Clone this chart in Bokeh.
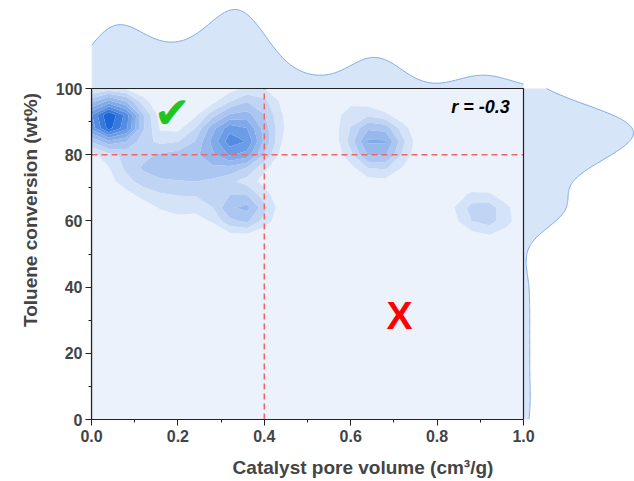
import numpy as np
from bokeh.plotting import figure
from bokeh.models import Range1d, FixedTicker, PrintfTickFormatter
from bokeh.core.properties import value
from bokeh.embed import file_html
from bokeh.resources import INLINE

# ---- data: (pore volume, toluene conversion) per catalyst ----
pore_volume = [0.02, 0.03, 0.04, 0.05, 0.06, 0.04, 0.03, 0.07, 0.01, 0.08, 0.05,         # cluster near 0.04 / 90
               0.12, 0.17, 0.22, 0.27, 0.20, 0.14, 0.25, 0.08, 0.19, 0.29,               # spread 0.1-0.3 / 65-82
               0.35, 0.36, 0.34, 0.35, 0.31, 0.28, 0.33, 0.31, 0.37, 0.38, 0.40, 0.34,   # cluster near 0.35 / 82
               0.35, 0.34, 0.36, 0.35,                                                   # 0.35 / 63
               0.66, 0.65, 0.67, 0.66, 0.60, 0.67, 0.66,                                 # 0.66 / 84
               0.88, 0.93, 0.91,                                                         # 0.91 / 62
               0.50, 0.15, 0.25, 0.47, 0.10]                                             # low conversion
conversion = [90, 92, 89, 91, 90, 93, 87, 88, 92, 92, 90,
              78, 77, 74, 70, 64, 70, 79, 75, 81, 77,
              82, 81, 83, 80, 88, 87, 90, 85, 96, 95, 88, 86,
              64, 62, 65, 63,
              84, 83, 85, 86, 93, 76, 82,
              64, 60, 63,
              40, 30, 20, 10, 1]

x_ticks = [0.0, 0.2, 0.4, 0.6, 0.8, 1.0]
x_minor = [0.1, 0.3, 0.5, 0.7, 0.9]
y_ticks = [0, 20, 40, 60, 80, 100]
y_minor = [10, 30, 50, 70, 90]
x_threshold = 0.4
y_threshold = 80
r_label = "r = -0.3"

# ---- layout constants ----
W, H = 634, 481
L, B = 91, 62
px_per_x = 432.0
px_per_y = 3.31
x_max = (W - L) / px_per_x
y_max = (H - B) / px_per_y
top_h = 79 / px_per_y       # height of the top marginal peak in y units
right_w = 110 / px_per_x    # width of the right marginal peak in x units

px = np.array(pore_volume, float)
py = np.array(conversion, float)

# 2D KDE on a coarse grid
sx, sy = 0.045, 4.5
gx = np.linspace(0, 1, 26)
gy = np.linspace(0, 100, 26)
GX, GY = np.meshgrid(gx, gy)
Z = np.zeros_like(GX)
for xi, yi in zip(px, py):
    Z += np.exp(-0.5 * ((GX - xi) / sx) ** 2 - 0.5 * ((GY - yi) / sy) ** 2)
zmax = Z.max()
levels = [-1e-9] + [zmax * f for f in [0.12, 0.21, 0.30, 0.40, 0.50, 0.60, 0.70, 0.80, 0.90]] + [zmax * 1.01]
fracs = [0.08, 0.18, 0.27, 0.36, 0.45, 0.54, 0.63, 0.73, 0.85, 0.97]
base = np.array([21, 98, 214])
palette = []
for f in fracs:
    c = 255 * (1 - f) + base * f
    palette.append("#%02x%02x%02x" % tuple(int(round(v)) for v in c))

# marginal KDEs
mx = np.linspace(0, 1, 300)
dx = np.zeros_like(mx)
for xi in px:
    dx += np.exp(-0.5 * ((mx - xi) / 0.06) ** 2)
dx = dx / dx.max() * top_h

my = np.linspace(0, 100, 300)
dy = np.zeros_like(my)
for yi in py:
    dy += np.exp(-0.5 * ((my - yi) / 5.5) ** 2)
dy = dy / dy.max() * right_w

p = figure(width=W, height=H, output_backend="svg", toolbar_location=None,
           x_range=Range1d(0, x_max), y_range=Range1d(0, y_max),
           min_border_left=L, min_border_bottom=B, min_border_top=0, min_border_right=0)
p.outline_line_color = None
p.grid.visible = False
p.background_fill_color = "white"
p.border_fill_color = "white"

p.contour(gx, gy, Z, levels, fill_color=palette, line_color=None)

mfill = "#d6e5f8"
mline = "#7eacea"
p.varea(x=mx, y1=100, y2=100 + dx, fill_color=mfill)
p.line(mx, 100 + dx, line_color=mline, line_width=1)
p.harea(y=my, x1=1, x2=1 + dy, fill_color=mfill)
p.line(1 + dy, my, line_color=mline, line_width=1)

red = "#ef6464"
p.line([x_threshold, x_threshold], [0, 100], line_color=red, line_width=1.5, line_dash="6 4")
p.line([0, 1], [y_threshold, y_threshold], line_color=red, line_width=1.5, line_dash="6 4")

p.quad(left=0, right=1, bottom=0, top=100, fill_color=None, line_color="#222222", line_width=1.2)

p.text(x=[0.187], y=[92.7], text=["✔"], text_font=value("DejaVu Sans"), text_font_size="44px",
       text_color="#1fc61f", text_align="center", text_baseline="middle")
p.text(x=[0.713], y=[31.5], text=["X"], text_font=value("Liberation Sans"), text_font_size="39px",
       text_font_style="bold", text_color="#ff0000", text_align="center", text_baseline="middle")
p.text(x=[0.968], y=[94.3], text=[r_label], text_font=value("Liberation Sans"), text_font_size="18px",
       text_font_style="bold italic", text_color="black", text_align="right", text_baseline="middle")

for ax, ticks, minor, bounds, lab in [(p.xaxis[0], x_ticks, x_minor, (0, 1), "Catalyst pore volume (cm³/g)"),
                                      (p.yaxis[0], y_ticks, y_minor, (0, 100), "Toluene conversion (wt%)")]:
    ax.ticker = FixedTicker(ticks=ticks, minor_ticks=minor)
    ax.bounds = bounds
    ax.axis_label = lab
    ax.axis_label_text_font = "Liberation Sans"
    ax.axis_label_text_font_style = "bold"
    ax.axis_label_text_font_size = "19px"
    ax.major_label_text_font = "Liberation Sans"
    ax.major_label_text_font_style = "bold"
    ax.major_label_text_font_size = "16px"
    ax.axis_line_color = "#222222"
    ax.axis_line_width = 1.2
    ax.major_tick_line_color = "#222222"
    ax.minor_tick_line_color = "#222222"
    ax.major_tick_in = 0
    ax.major_tick_out = 6
    ax.minor_tick_in = 0
    ax.minor_tick_out = 3
    ax.major_label_standoff = 4
    ax.axis_label_standoff = 12

p.xaxis[0].formatter = PrintfTickFormatter(format="%.1f")
p.yaxis[0].major_label_standoff = 3

open("out.html", "w").write(file_html(p, INLINE))
